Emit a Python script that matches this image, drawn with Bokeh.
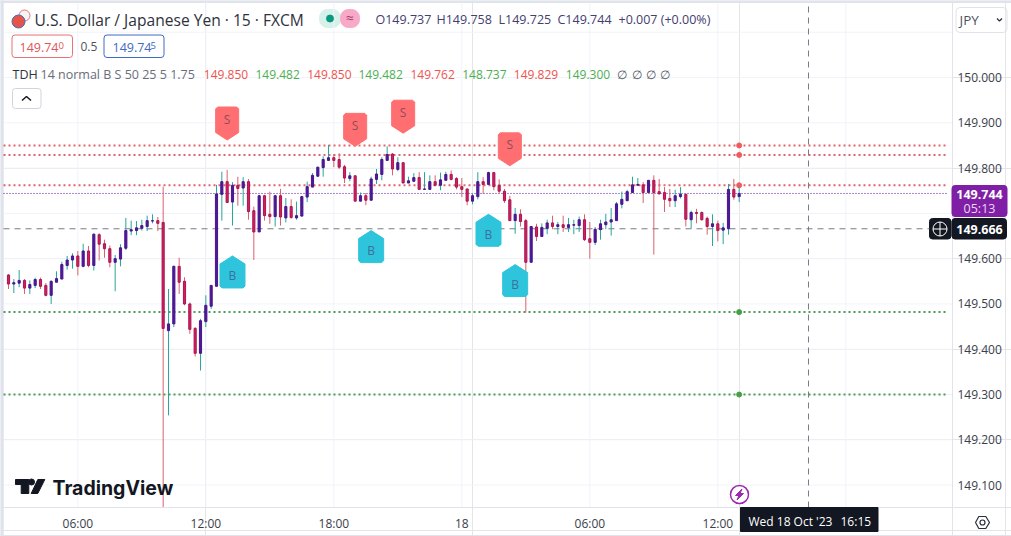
from bokeh.plotting import figure
from bokeh.models import BoxAnnotation, FixedTicker, Label, LinearAxis, NumeralTickFormatter
from bokeh.core.properties import value
from bokeh.embed import file_html
from bokeh.resources import INLINE

FIRST_BAR = -37
opens = [149.564,149.544,149.546,149.552,149.535,149.541,149.554,149.541,149.519,149.548,149.555,149.585,149.597,149.606,149.583,149.617,149.585,149.653,149.633,149.622,149.592,149.599,149.623,149.661,149.662,149.667,149.671,149.683,149.684,149.680,149.441,149.456,149.583,149.550,149.500,149.446,149.391,149.461,149.495,149.539,149.742,149.770,149.725,149.762,149.756,149.770,149.706,149.659,149.739,149.698,149.693,149.739,149.690,149.715,149.690,149.694,149.736,149.758,149.782,149.801,149.817,149.823,149.819,149.803,149.777,149.783,149.727,149.739,149.729,149.775,149.786,149.817,149.831,149.797,149.812,149.767,149.771,149.779,149.753,149.753,149.770,149.762,149.773,149.786,149.777,149.759,149.754,149.727,149.737,149.770,149.764,149.790,149.762,149.749,149.730,149.684,149.698,149.684,149.592,149.670,149.649,149.667,149.679,149.671,149.675,149.669,149.674,149.673,149.686,149.644,149.636,149.664,149.675,149.681,149.684,149.720,149.728,149.746,149.762,149.763,149.746,149.773,149.748,149.746,149.733,149.728,149.737,149.742,149.686,149.702,149.702,149.689,149.671,149.677,149.663,149.666,149.753,149.737]
highs = [149.566,149.555,149.575,149.555,149.552,149.558,149.558,149.546,149.552,149.572,149.593,149.606,149.612,149.617,149.633,149.628,149.656,149.656,149.642,149.629,149.608,149.632,149.690,149.684,149.683,149.686,149.695,149.698,149.692,149.759,149.533,149.585,149.602,149.559,149.503,149.449,149.467,149.519,149.541,149.763,149.792,149.796,149.769,149.781,149.780,149.776,149.715,149.741,149.741,149.748,149.741,149.754,149.734,149.731,149.726,149.737,149.770,149.789,149.803,149.826,149.851,149.831,149.833,149.807,149.791,149.784,149.746,149.745,149.781,149.798,149.824,149.848,149.833,149.824,149.812,149.781,149.789,149.791,149.791,149.784,149.784,149.790,149.792,149.795,149.780,149.778,149.754,149.743,149.791,149.780,149.792,149.790,149.775,149.754,149.739,149.712,149.709,149.688,149.672,149.677,149.678,149.686,149.695,149.681,149.695,149.690,149.686,149.693,149.698,149.681,149.670,149.686,149.699,149.712,149.725,149.748,149.752,149.781,149.778,149.769,149.773,149.784,149.776,149.758,149.754,149.752,149.758,149.743,149.706,149.710,149.704,149.693,149.698,149.684,149.679,149.765,149.776,149.758]
lows = [149.533,149.524,149.537,149.522,149.522,149.535,149.533,149.517,149.500,149.548,149.555,149.576,149.578,149.563,149.581,149.581,149.574,149.596,149.602,149.581,149.528,149.583,149.619,149.652,149.652,149.662,149.661,149.678,149.661,149.051,149.254,149.449,149.522,149.497,149.434,149.384,149.353,149.449,149.489,149.539,149.684,149.724,149.673,149.717,149.717,149.686,149.597,149.659,149.684,149.677,149.671,149.673,149.680,149.688,149.686,149.693,149.725,149.758,149.782,149.781,149.817,149.802,149.798,149.767,149.771,149.727,149.727,149.718,149.729,149.765,149.773,149.817,149.784,149.793,149.767,149.767,149.769,149.753,149.752,149.752,149.760,149.751,149.773,149.773,149.753,149.736,149.718,149.720,149.731,149.743,149.764,149.751,149.743,149.723,149.684,149.655,149.671,149.481,149.592,149.639,149.649,149.654,149.665,149.654,149.659,149.659,149.654,149.659,149.639,149.600,149.630,149.642,149.665,149.651,149.684,149.711,149.727,149.746,149.762,149.723,149.746,149.609,149.742,149.703,149.714,149.714,149.733,149.671,149.667,149.678,149.684,149.653,149.628,149.638,149.632,149.653,149.730,149.725]
closes = [149.544,149.547,149.552,149.535,149.543,149.554,149.539,149.519,149.550,149.556,149.587,149.597,149.606,149.583,149.617,149.585,149.654,149.632,149.622,149.592,149.600,149.624,149.662,149.664,149.668,149.673,149.684,149.684,149.678,149.446,149.456,149.583,149.548,149.500,149.444,149.391,149.463,149.497,149.541,149.743,149.770,149.724,149.762,149.755,149.770,149.704,149.659,149.739,149.695,149.693,149.739,149.692,149.715,149.691,149.695,149.737,149.759,149.784,149.802,149.819,149.823,149.817,149.802,149.778,149.783,149.727,149.739,149.729,149.776,149.787,149.819,149.830,149.798,149.812,149.767,149.772,149.779,149.753,149.754,149.770,149.762,149.774,149.786,149.775,149.758,149.753,149.727,149.739,149.770,149.764,149.790,149.759,149.749,149.728,149.684,149.698,149.682,149.592,149.671,149.649,149.669,149.679,149.671,149.675,149.669,149.675,149.675,149.686,149.642,149.636,149.665,149.677,149.681,149.686,149.721,149.731,149.748,149.763,149.764,149.746,149.773,149.746,149.743,149.731,149.728,149.739,149.742,149.687,149.702,149.700,149.686,149.671,149.677,149.662,149.668,149.753,149.736,149.744]

red_levels = [149.850, 149.829, 149.762]
green_levels = [149.482, 149.300]
last_price = 149.744
cross_price = 149.666
cross_bar = 113
level_dot_bar = 100

sell_bars = [4, 28, 37, 57]
sell_tips = [149.862, 149.848, 149.877, 149.805]
buy_bars = [5, 31, 53, 58]
buy_tips = [149.606, 149.662, 149.698, 149.587]

price_ticks = [150.0, 149.9, 149.8, 149.6, 149.5, 149.4, 149.3, 149.2, 149.1]
grid_prices = [150.1, 150.0, 149.9, 149.8, 149.7, 149.6, 149.5, 149.4, 149.3, 149.2, 149.1]
time_ticks = [-24, 0, 24, 48, 72, 96]
time_labels = ["06:00", "12:00", "18:00", "18", "06:00", "12:00"]
grid_bars = [-24, 0, 24, 48, 72, 96, 120]

legend_values = ["149.850", "149.482", "149.850", "149.482", "149.762", "148.737", "149.829", "149.300"]

PXB = 5.3333
PXP = 452.9
def X(px): return (px - 205.33) / PXB
def Y(py): return 149.883 - (py - 130) / PXP

FONT = "Open Sans"
W, H = 1011, 536
L, T, R, B = 3, 2, 952, 507
p = figure(width=W, height=H, frame_width=W, frame_height=H,
           x_range=(X(0), X(W)), y_range=(Y(H), Y(0)),
           output_backend="svg", toolbar_location=None,
           min_border_left=0, min_border_top=0, min_border_right=0, min_border_bottom=0,
           x_axis_location=None, y_axis_location=None)
p.outline_line_color = None
p.background_fill_color = "#ffffff"
p.border_fill_color = "#ffffff"

GRID = "#f0f3fa"
xaxis = LinearAxis(ticker=FixedTicker(ticks=time_ticks), fixed_location=Y(B),
                   major_label_overrides=dict(zip(time_ticks, time_labels)))
yaxis = LinearAxis(ticker=FixedTicker(ticks=price_ticks), fixed_location=X(R),
                   formatter=NumeralTickFormatter(format="0.000"))
for ax, off in ((xaxis, 7), (yaxis, 5)):
    ax.axis_line_color = "#e0e3eb"
    ax.major_tick_line_color = None
    ax.minor_tick_line_color = None
    ax.major_tick_out = 0
    ax.major_tick_in = 0
    ax.major_label_text_font = FONT
    ax.major_label_text_font_size = "12px"
    ax.major_label_text_color = "#3a3e4a"
    ax.major_label_standoff = off
p.add_layout(xaxis, "below")
p.add_layout(yaxis, "right")

p.segment(x0=grid_bars, x1=grid_bars, y0=Y(B), y1=Y(T), line_color=GRID, line_width=1)
p.segment(x0=X(L), x1=X(R), y0=grid_prices, y1=grid_prices, line_color=GRID, line_width=1)

# indicator levels
p.segment(x0=X(3), x1=X(948), y0=red_levels, y1=red_levels, line_color="#e2636c", line_width=2, line_dash="2 3")
p.segment(x0=X(3), x1=X(948), y0=green_levels, y1=green_levels, line_color="#4c9a5a", line_width=2, line_dash="2 3")
p.segment(x0=X(3), x1=X(948), y0=last_price, y1=last_price, line_color="#4a148c", line_width=1, line_dash="1 2")
p.scatter([level_dot_bar] * 3, red_levels, size=5, color="#ef5a5f")
p.scatter([level_dot_bar] * 2, green_levels, size=5, color="#43a047")

# crosshair
CROSS = "#787b86"
p.segment(x0=X(3), x1=X(929), y0=cross_price, y1=cross_price, line_color=CROSS, line_width=1, line_dash="6 5")
p.segment(x0=cross_bar, x1=cross_bar, y0=Y(B), y1=Y(T), line_color=CROSS, line_width=1, line_dash="6 5")

# candles
bars = [FIRST_BAR + k for k in range(len(opens))]
up = [c >= o for o, c in zip(opens, closes)]
wick = ["#26a69a" if u else "#d9626b" for u in up]
fill = ["#4a1a9a" if u else "#d81b60" for u in up]
edge = ["#4a148c" if u else "#a5174f" for u in up]
p.segment(x0=bars, x1=bars, y0=lows, y1=highs, line_color=wick, line_width=1)
p.vbar(x=bars, width=0.4, bottom=[min(o, c) for o, c in zip(opens, closes)],
       top=[max(o, c) for o, c in zip(opens, closes)], fill_color=fill, line_color=edge, line_width=1)

# signal markers
def marker(bar, tip, direction, half, near, far):
    d = direction
    def py(off): return tip + d * off / PXP
    def bx(off): return bar + off / PXB
    return ([bx(0), bx(half), bx(half), bx(half - 2), bx(-half + 2), bx(-half), bx(-half)],
            [py(0), py(near), py(far - 2), py(far), py(far), py(far - 2), py(near)])

sell = [marker(b, t, 1, 11.5, 7.5, 33) for b, t in zip(sell_bars, sell_tips)]
p.patches([m[0] for m in sell], [m[1] for m in sell], fill_color="#ff6f71", line_color="#ff6f71")
p.text(sell_bars, [t + 21 / PXP for t in sell_tips], text=["S"] * 4, text_align="center", text_baseline="middle",
       text_color="#8f4d58", text_font=value(FONT), text_font_size="12px")
buy = [marker(b, t, -1, 12.5, 8, 32) for b, t in zip(buy_bars, buy_tips)]
p.patches([m[0] for m in buy], [m[1] for m in buy], fill_color="#2ec5dc", line_color="#2ec5dc")
p.text(buy_bars, [t - 20 / PXP for t in buy_tips], text=["B"] * 4, text_align="center", text_baseline="middle",
       text_color="#3f6f9f", text_font=value(FONT), text_font_size="12px")

# --- chrome
def label(px, py, text, color="#2a2e39", size=12, style="normal", align="left", font=FONT):
    p.add_layout(Label(x=X(px), y=Y(py), text=text, text_color=color, text_font_size=f"{size}px",
                       text_font=font, text_font_style=style, text_align=align, text_baseline="middle"))

def box(l, r, t, b, fill=None, line=None, radius=3, level="underlay"):
    p.add_layout(BoxAnnotation(left=X(l), right=X(r), top=Y(t), bottom=Y(b), level=level,
                               fill_color=fill or "#ffffff", fill_alpha=1 if fill else 0,
                               line_color=line or fill, line_width=1, line_alpha=1 if line or fill else 0,
                               border_radius=radius))

# page bands
BAND = "#e0e3eb"
box(0, W, 0, 2, fill=BAND, radius=0)
box(0, 2.7, 0, H, fill=BAND, radius=0)
box(0, W, 535, H, fill=BAND, radius=0)

label(34, 19, "U.S. Dollar / Japanese Yen · 15 · FXCM", size=15.6, color="#2f323c")
# flag
p.scatter([X(24)], [Y(15)], size=11, fill_color="#f4f4f4", line_color="#e57373")
p.scatter([X(18)], [Y(21)], size=13, fill_color="#e5534b", line_color="#3f6fb5")
# status pill
box(319, 340, 9, 27, fill="#d6f0ea", radius=8)
box(340, 359, 9, 27, fill="#f8a9c8", radius=8)
p.scatter([X(329.5)], [Y(18)], size=7, color="#089981")
label(349.5, 17, "≈", color="#a33a70", size=14, align="center")

for px, txt in zip([375, 436, 498, 557, 618],
                   ["O149.737", "H149.758", "L149.725", "C149.744", "+0.007 (+0.00%)"]):
    label(px, 18.5, txt, color="#434070", size=12.5)

box(11.5, 72, 34.5, 57, line="#e57373")
label(19, 46.5, "149.74", color="#e0555b", size=12.5)
label(58, 45, "0", color="#e0555b", size=9.5)
label(80, 46, "0.5", color="#50535e", size=12)
box(103.5, 163.5, 34.5, 57, line="#3f6ac4")
label(112, 46.5, "149.74", color="#3f6ac4", size=12.5)
label(150, 45, "5", color="#3f6ac4", size=9.5)

label(12, 74, "TDH", color="#2f323c", size=12.5)
label(40, 74, "14 normal B S 50 25 5 1.75", color="#6a6d78", size=12.5)
for px, txt, col in zip([203.3, 255, 306.7, 358, 410, 461.7, 513.3, 565.3], legend_values,
                        ["#ef5350", "#4caf50"] * 4):
    label(px, 74, txt, color=col, size=12)
for px in [616.7, 631, 645, 659]:
    label(px, 74, "∅", color="#50535e", size=12)

box(12, 40.5, 88, 108, line="#d1d4dc")
p.line([X(21.5), X(26), X(30.5)], [Y(100), Y(96), Y(100)], line_color="#131722", line_width=1.5)

# right scale boxes
box(951.5, 1006.5, 185, 216, fill="#7f1fa6", level="annotation")
label(979, 194, "149.744", color="#ffffff", size=12.5, style="bold", align="center")
label(979, 208, "05:13", color="#ead7f2", size=12.5, align="center")
box(951.5, 1006, 218, 238.5, fill="#131722", level="annotation")
label(979, 228.5, "149.666", color="#ffffff", size=12.5, style="bold", align="center")
box(929, 950.5, 218, 238.5, fill="#131722")
p.scatter([X(939.5)], [Y(228.5)], marker="circle_cross", size=14, fill_alpha=0, line_color="#ffffff", line_width=1)

box(955.5, 1006.5, 7, 32, line="#e0e3eb", radius=4)
label(959, 19, "JPY", color="#50535e", size=13.5)
p.line([X(996.5), X(999), X(1001.5)], [Y(18), Y(20.5), Y(18)], line_color="#2a2e39", line_width=1.2)

# time cursor
box(740, 877.5, 507, 531, fill="#131722", radius=0, level="annotation")
label(748, 521, "Wed 18 Oct '23", color="#ffffff", size=12)
label(840, 521, "16:15", color="#ffffff", size=12)

# lightning bolt badge
p.scatter([X(739)], [Y(494)], size=18, fill_color="#ffffff", line_color="#9c27b0", line_width=1.5)
p.patch([X(741.5), X(735), X(738.5), X(736.5), X(743), X(739.5)],
        [Y(488.5), Y(495), Y(495), Y(499.5), Y(493), Y(493)], color="#9c27b0")

# gear
p.line([X(975), X(978.3), X(985.3), X(989), X(985.3), X(978.3), X(975)],
       [Y(522), Y(516), Y(516), Y(522), Y(528), Y(528), Y(522)], line_color="#2a2e39", line_width=1.2)
p.scatter([X(982)], [Y(522)], size=5, fill_alpha=0, line_color="#2a2e39", line_width=1.2)

# logo
LOGO = "#131722"
p.patch([X(15), X(28.3), X(28.3), X(20.7), X(20.7), X(15)], [Y(479), Y(479), Y(493), Y(493), Y(484), Y(484)], color=LOGO)
p.scatter([X(31)], [Y(481.5)], size=6, color=LOGO)
p.patch([X(37.3), X(44.3), X(37.3), X(30.7)], [Y(479), Y(479), Y(493), Y(493)], color=LOGO)
label(52, 487, "TradingView", color=LOGO, size=19.5, style="bold", font="Inter")

open("out.html", "w").write(file_html(p, INLINE))
